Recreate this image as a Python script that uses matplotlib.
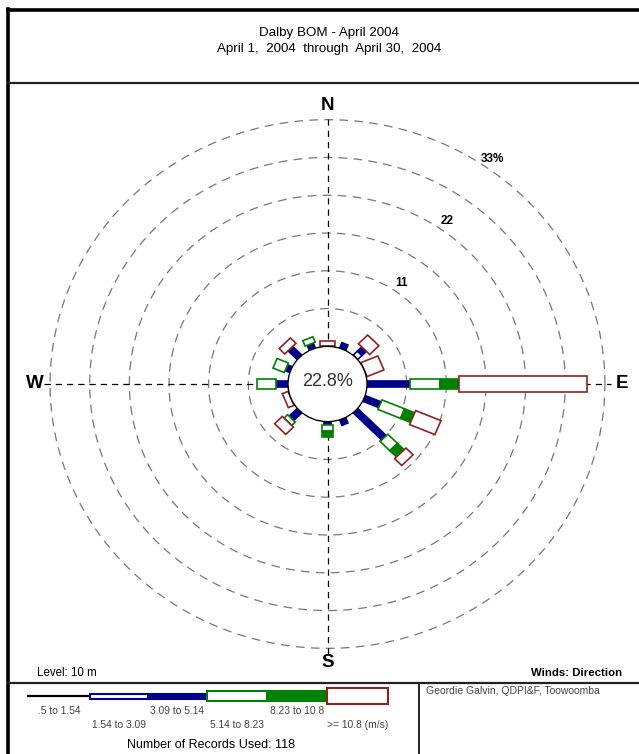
import numpy as np
import matplotlib
matplotlib.use("Agg")
import matplotlib.pyplot as plt
from matplotlib.patches import Polygon, Ellipse

plt.rcParams["font.family"] = ["Liberation Sans", "DejaVu Sans"]

# Wind directions (clockwise from north) and frequency (%) per speed class
directions = ["N", "NNE", "NE", "ENE", "E", "ESE", "SE", "SSE",
              "S", "SSW", "SW", "WSW", "W", "WNW", "NW", "NNW"]
angles = np.arange(16) * 22.5

spd_05_154 = [0, 0, 0, 0, 0, 0, 0, 0, 0, 0, 0, 0, 0, 0, 0, 0]
spd_154_309 = [0, 0, 0.85, 0, 0, 0, 0, 0, 0, 0, 0, 0, 0, 0, 0, 0]
spd_309_514 = [0, 0.85, 0.85, 0, 5.93, 2.4, 5.6, 0.85, 0.5, 0, 1.6, 0, 1.6, 0.7, 1.8, 0.8]
spd_514_823 = [0, 0, 0, 0, 4.24, 3.4, 1.9, 0, 0.8, 0, 0.7, 0, 2.7, 1.7, 0, 0.85]
spd_823_108 = [0, 0, 0, 0, 2.54, 1.5, 1.3, 0, 0.9, 0, 0, 0, 0, 0, 0, 0]
spd_108_up = [0.85, 0, 1.8, 2.54, 17.8, 3.8, 1.4, 0, 0, 0, 1.5, 0.85, 0, 0, 1.1, 0]

calm_pct = 22.8
ring_step = 5.5
n_rings = 6
records = 118

speed_labels = [".5 to 1.54", "1.54 to 3.09", "3.09 to 5.14",
                "5.14 to 8.23", "8.23 to 10.8", ">= 10.8 (m/s)"]

navy = "#00008b"
green = "#008000"
red = "#8b2323"
# (colour, filled, width) for each speed class
styles = [("black", True, 0.12),
          (navy, False, 0.9),
          (navy, True, 0.9),
          (green, False, 1.5),
          (green, True, 1.5),
          (red, False, 2.2)]
classes = [spd_05_154, spd_154_309, spd_309_514, spd_514_823, spd_823_108, spd_108_up]

W, H = 639, 754
fig = plt.figure(figsize=(W / 100, H / 100), dpi=100)

# background axes in pixel units for frames and text
bg = fig.add_axes([0, 0, 1, 1])
bg.set_xlim(0, W)
bg.set_ylim(H, 0)
bg.axis("off")

bg.plot([8, W], [10, 10], color="black", lw=2.6)
bg.plot([8, 8], [9, H], color="black", lw=2.6)
bg.plot([8, W], [83, 83], color="#222222", lw=1.6)
bg.plot([8, W], [683, 683], color="#222222", lw=1.6)
bg.plot([419, 419], [683, H], color="#222222", lw=1.4)

bg.text(329, 33, "Dalby BOM - April 2004", ha="center", va="center", fontsize=9.6)
bg.text(329, 49, "April 1,  2004  through  April 30,  2004", ha="center", va="center",
        fontsize=9.6)

bg.text(37, 673, "Level: 10 m", ha="left", va="center", fontsize=8.3)
bg.text(622, 673, "Winds: Direction", ha="right", va="center", fontsize=8.2,
        fontweight="bold")
bg.text(426, 691, "Geordie Galvin, QDPI&F, Toowoomba", ha="left", va="center",
        fontsize=7.5, color="#444444")
bg.text(211, 745, "Number of Records Used: %d" % records, ha="center", va="center",
        fontsize=9.0)

# speed legend bar
edges = [28, 90, 148, 207, 267, 327, 388]
heights = [1.5, 5, 5, 10, 10, 16]
yc = 696
for i, (col, filled, _) in enumerate(styles):
    x0, x1 = edges[i], edges[i + 1]
    h = heights[i]
    if i == 0:
        bg.plot([x0, x1], [yc, yc], color="black", lw=1.6)
    else:
        bg.add_patch(plt.Rectangle((x0, yc - h / 2), x1 - x0, h,
                                   facecolor=col if filled else "white",
                                   edgecolor=col, lw=1.5, zorder=3 if filled else 4))
    ty = 711 if i % 2 == 0 else 725
    bg.text((x0 + x1) / 2, ty, speed_labels[i], ha="center", va="center",
            fontsize=7.4, color="#444444")

# wind rose axes
sx, sy = 7.21, 6.87
cx, cy = 327.5, 384
left_px, right_px, top_px, bot_px = 20, 635, 90, 678
ax = fig.add_axes([left_px / W, (H - bot_px) / H, (right_px - left_px) / W,
                   (bot_px - top_px) / H])
ax.set_xlim((left_px - cx) / sx, (right_px - cx) / sx)
ax.set_ylim((cy - bot_px) / sy, (cy - top_px) / sy)
ax.axis("off")

r0 = 39.5 / sx
ring_r = [r0 + ring_step * k for k in range(1, n_rings + 1)]

theta = np.linspace(0, 2 * np.pi, 400)
for r in ring_r:
    ax.plot(r * np.cos(theta), r * np.sin(theta), color="#777777", lw=0.9,
            dashes=(7, 5), zorder=1)

ext = ring_r[-1] + 0.8
ax.plot([-ext, ext], [0, 0], color="black", lw=0.9, dashes=(5, 4), zorder=1.5)
ax.plot([0, 0], [-ext, ext], color="black", lw=0.9, dashes=(5, 4), zorder=1.5)

lab_ang = np.deg2rad(35)
for k, txt in [(1, "11"), (3, "22"), (5, "33%")]:
    r = ring_r[k] + 1.5
    ax.text(r * np.sin(lab_ang), r * np.cos(lab_ang), txt, ha="center", va="center",
            fontsize=8.5, fontweight="bold", zorder=5)

ax.text(0, 40.6, "N", ha="center", va="center", fontsize=13.5, fontweight="bold")
ax.text(0, -40.5, "S", ha="center", va="center", fontsize=13.5, fontweight="bold")
ax.text(-40.6, 0, "W", ha="center", va="center", fontsize=13.5, fontweight="bold")
ax.text(40.8, 0, "E", ha="center", va="center", fontsize=13.5, fontweight="bold")

# stacked petals
for d, ang in enumerate(np.deg2rad(angles)):
    u = np.array([np.sin(ang), np.cos(ang)])
    v = np.array([np.cos(ang), -np.sin(ang)])
    r_in = r0
    for c, (col, filled, w) in enumerate(styles):
        val = classes[c][d]
        if val <= 0:
            continue
        r_out = r_in + val
        pts = [r_in * u + w / 2 * v, r_out * u + w / 2 * v,
               r_out * u - w / 2 * v, r_in * u - w / 2 * v]
        ax.add_patch(Polygon(pts, closed=True,
                             facecolor=col if filled else "white",
                             edgecolor=col, lw=1.2, zorder=3))
        r_in = r_out

ax.add_patch(Ellipse((0, 0), 2 * r0, 2 * r0, facecolor="white", edgecolor="black",
                     lw=1.0, zorder=4))
ax.text(0, 0.3, "%.1f%%" % calm_pct, ha="center", va="center", fontsize=13,
        color="#333333", zorder=5)

fig.savefig("out.png", dpi=100)
